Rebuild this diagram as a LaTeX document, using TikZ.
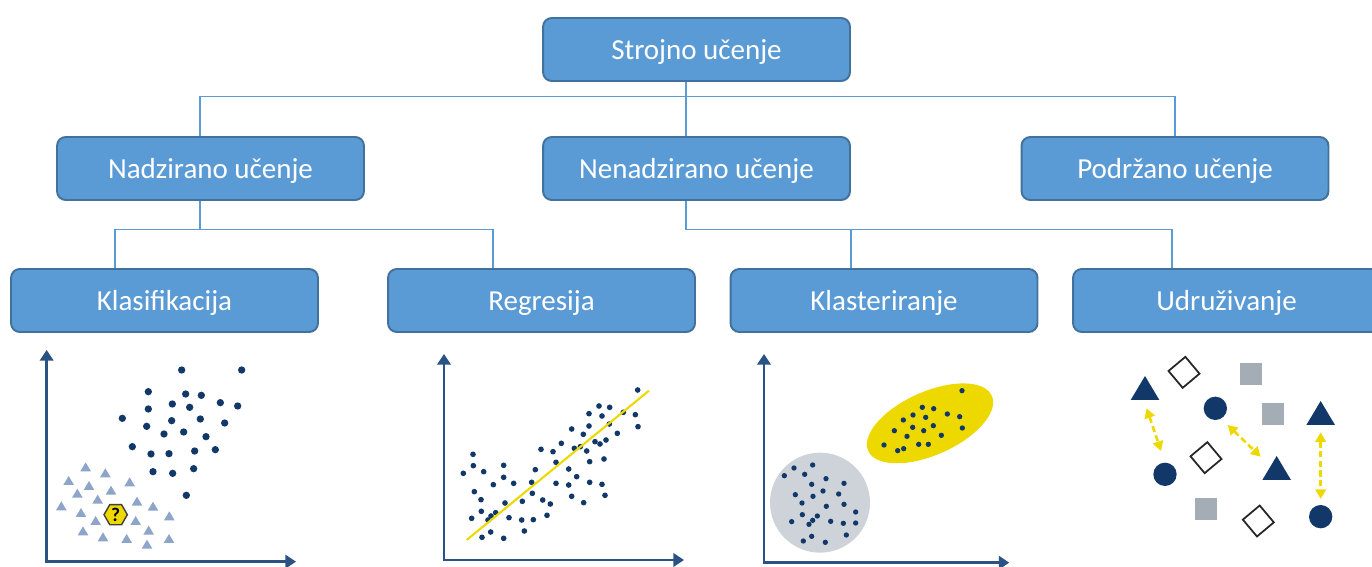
\documentclass[tikz,border=0pt]{standalone}
\usepackage{fontspec}
\setmainfont{Carlito}
\usetikzlibrary{arrows.meta,calc}
\definecolor{boxfill}{HTML}{5B9BD5}
\definecolor{boxline}{HTML}{41719C}
\definecolor{navy}{HTML}{12386A}
\definecolor{axisblue}{HTML}{2A5283}
\definecolor{ylw}{HTML}{EDD900}
\definecolor{paleblue}{HTML}{8DA5C8}
\definecolor{palegrey}{HTML}{CDD3D9}
\definecolor{sqgrey}{HTML}{A4ADB5}

\begin{document}
\begin{tikzpicture}
  [x=0.02cm,y=-0.02cm,
   box/.style=
     {draw=boxline,fill=boxfill,line width=1.1pt,rounded corners=5pt,
      minimum width=6.14cm,minimum height=1.26cm,text=white,
      text height=11.4pt,text depth=0pt,
      font=\fontsize{16.5}{18}\selectfont},
   link/.style={draw=boxfill,line width=0.6pt},
   axis/.style=
     {draw=axisblue,line width=1.5pt,
      {Triangle[length=6pt,width=7.5pt]}-{Triangle[length=6pt,width=7.5pt]}},
   pairarrow/.style=
     {draw=ylw,line width=1.5pt,dash pattern=on 3.5pt off 2pt,
      {Triangle[length=5.5pt,width=6pt]}-{Triangle[length=5.5pt,width=6pt]}}
  ]
  \path[use as bounding box,clip] (0,0) rectangle (1372,567);

  \node[box] (root)  at (696.5,49.5)  {Strojno učenje};
  \node[box] (sup)   at (210.5,168.5) {Nadzirano učenje};
  \node[box] (unsup) at (696.5,168.5) {Nenadzirano učenje};
  \node[box] (rein)  at (1175,168.5)  {Podržano učenje};
  \node[box] (cls)   at (164.5,300.5) {Klasifikacija};
  \node[box] (reg)   at (541.5,300.5) {Regresija};
  \node[box] (clu)   at (884,300.5)   {Klasteriranje};
  \node[box] (asc)   at (1226.5,300.5) {Udruživanje};

  \draw[link] ($(root.south)+(-10.5,0)$) -- ($(unsup.north)+(-10.5,0)$);
  \draw[link] ($(sup.north)+(-10.5,0)$) |- ($(root.south)+(0,15)$) -| (rein.north);

  \coordinate (sbus) at ($(sup.south)+(-10.5,29)$);
  \draw[link] ($(sup.south)+(-10.5,0)$) -- (sbus);
  \draw[link] ($(cls.north)+(-49.5,0)$) |- (sbus) -| ($(reg.north)+(-48.5,0)$);

  \coordinate (ubus) at ($(unsup.south)+(-10.5,29)$);
  \draw[link] ($(unsup.south)+(-10.5,0)$) -- (ubus) -| ($(asc.north)+(-54.5,0)$);
  \draw[link] ($(clu.north)+(-33,0)$) |- (ubus);

  % klasifikacija
  \begin{scope}[shift={(0,340)},scale=1/3]
    \draw[axis] (140,30) -- (140,665) -- (888,665);
    \foreach \p in {(545,90),(725,90),(445,155),(557,162),(604,166),(517,192),
      (569,202),(661,188),(713,198),(445,207),(367,235),(515,242),(601,237),
      (674,249),(440,259),(492,282),(551,276),(618,290),(397,320),(453,342),
      (507,341),(584,333),(646,329),(459,395),(518,400),(581,386),(559,466)}
      \fill[navy] \p circle[radius=11];
    \foreach \p in {(257,382),(316,400),(206,423),(267,438),(389,427),(232,461),
      (333,452),(293,479),(184,499),(411,485),(459,500),(243,519),(287,543),
      (407,543),(508,529),(249,574),(446,572),(309,592),(380,597),(441,614),
      (507,597)}
      \fill[paleblue] \p +(0,-15) -- +(16,12) -- +(-16,12) -- cycle;
    \draw[fill=ylw,draw=black!75,line width=0.8pt] (347,524)
      +(0:35) -- +(60:35) -- +(120:35) -- +(180:35) -- +(240:35) -- +(300:35) -- cycle;
    \node[font=\bfseries\fontsize{11}{12}\selectfont] (qmark) at (347,524) {?};
  \end{scope}

  % regresija
  \begin{scope}[shift={(420,340)},scale=1/3]
    \draw[axis] (72,42) -- (72,660) -- (792,660);
    \foreach \p in {(653,150),(537,198),(569,202),(507,221),(546,228),(610,217),
      (646,224),(654,260),(455,267),(490,283),(507,258),(568,252),(592,280),
      (525,305),(540,312),(558,300),(463,325),(481,320),(500,333),(424,310),
      (399,335),(363,328),(159,343),(160,377),(130,400),(191,395),(251,376),
      (251,412),(220,434),(281,430),(346,389),(335,427),(408,367),(446,387),
      (470,410),(509,365),(552,357),(408,430),(446,435),(509,427),(546,433),
      (555,466),(455,469),(491,488),(368,480),(391,492),(337,460),(307,484),
      (255,489),(163,455),(183,479),(184,514),(155,535),(204,540),(213,528),
      (227,518),(267,533),(305,540),(340,539),(381,526),(313,573),(212,576),
      (186,592),(251,595)}
      \fill[navy] \p circle[radius=8.5];
    \draw[ylw,line width=1.2pt] (140,600) -- (687,152);
  \end{scope}

  % klasteriranje
  \begin{scope}[shift={(740,340)},scale=1/3]
    \draw[axis] (72,42) -- (72,668) -- (808,668);
    \fill[palegrey] (240,488) circle[radius=150];
    \fill[ylw,shift={(570,250)},rotate=24] (0,0) ellipse[x radius=203,y radius=95];
    \foreach \p in {(666,152),(547,202),(581,206),(519,225),(557,232),(622,222),
      (659,230),(667,264),(490,240),(463,272),(518,262),(551,272),(580,257),
      (604,286),(501,289),(432,315),(473,332),(491,326),(536,313),(565,313),
      (218,375),(162,384),(133,407),(194,403),(258,416),(312,430),(215,433),
      (166,464),(219,469),(249,453),(296,462),(186,489),(259,499),(312,493),
      (347,516),(187,524),(232,528),(218,541),(207,553),(155,545),(272,544),
      (310,550),(347,549),(319,585),(215,589),(190,603),(256,607)}
      \fill[navy] \p circle[radius=8];
  \end{scope}

  % udruzivanje
  \begin{scope}[shift={(1100,340)},scale=1/3]
    \foreach \p in {(135,145),(662,220),(530,385)}
      \fill[navy] \p +(0,-37) -- +(43,35) -- +(-43,35) -- cycle;
    \foreach \p in {(346,205),(195,403),(662,530)}
      \fill[navy] \p circle[radius=35];
    \foreach \p in {(452,103),(520,222),(318,506)}
      \fill[sqgrey] \p +(-33,-33) rectangle +(33,33);
    \foreach \p in {(252,97),(318,353),(475,543)}
      \draw[black!85,fill=white,line width=1pt,shift=\p,rotate=40]
        (-33,-33) rectangle (33,33);
    \draw[pairarrow] (140,205) -- (183,333);
    \draw[pairarrow] (383,255) -- (482,350);
    \draw[pairarrow] (662,277) -- (662,477);
  \end{scope}
\end{tikzpicture}
\end{document}
